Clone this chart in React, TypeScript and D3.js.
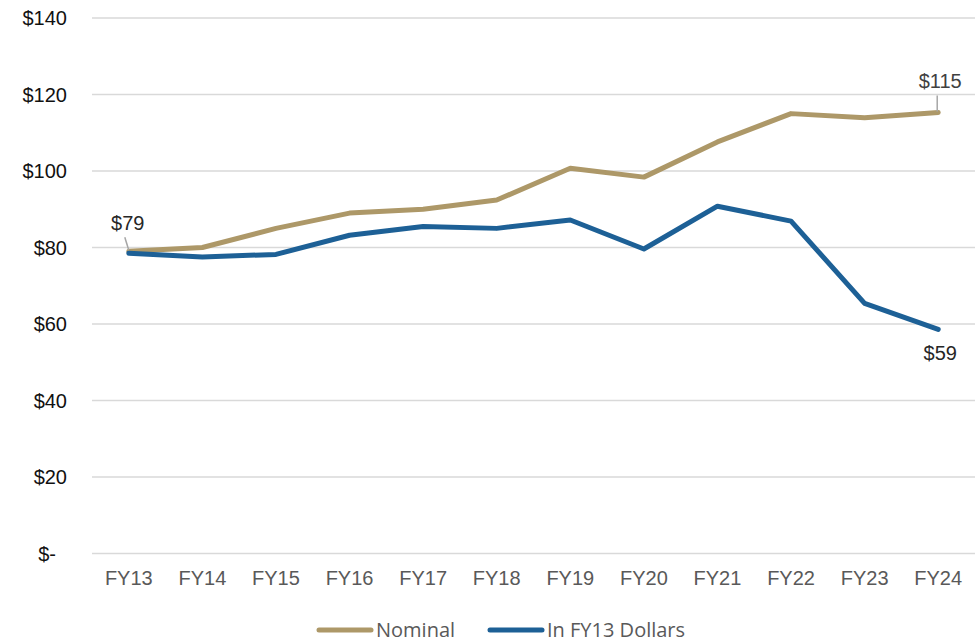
import React from "react";
import * as d3 from "d3";

const categories = ["FY13", "FY14", "FY15", "FY16", "FY17", "FY18", "FY19", "FY20", "FY21", "FY22", "FY23", "FY24"];
const nominal = [79, 80, 85, 89, 90, 92.4, 100.7, 98.4, 107.6, 115, 113.9, 115.3];
const realFY13 = [78.5, 77.5, 78.2, 83.2, 85.5, 85, 87.2, 79.6, 90.8, 86.9, 65.4, 58.6];
const yTicks = [0, 20, 40, 60, 80, 100, 120, 140];
const seriesNames = ["Nominal", "In FY13 Dollars"];
const colors = ["#AD9868", "#1D6096"];

const W = 978;
const H = 640;
const left = 92;
const right = 975;
const top = 18;
const bottom = 553.5;

export default function App() {
  const x = d3.scaleBand<string>().domain(categories).range([left, right]).padding(0);
  const y = d3.scaleLinear().domain([0, 140]).range([bottom, top]);
  const cx = (c: string) => (x(c) as number) + x.bandwidth() / 2;
  const line = d3
    .line<number>()
    .x((_, i) => cx(categories[i]))
    .y((d) => y(d));

  const fmt = (v: number) => (v === 0 ? "$-" : `$${v}`);
  const first = categories[0];
  const last = categories[categories.length - 1];
  const nLast = nominal[nominal.length - 1];
  const rLast = realFY13[realFY13.length - 1];

  return (
    <svg width={W} height={H} style={{ position: "absolute", left: 0, top: 0, background: "#fff" }}>
      {yTicks.map((t) => (
        <g key={t}>
          <line x1={left} x2={right} y1={y(t)} y2={y(t)} stroke="#D9D9D9" strokeWidth={1.5} />
          <text
            x={t === 0 ? left - 36 : left - 25}
            y={y(t)}
            dy="0.35em"
            textAnchor="end"
            fontFamily="Liberation Sans, Arial, sans-serif"
            fontSize={20}
            fill="#111"
          >
            {fmt(t)}
          </text>
        </g>
      ))}
      {categories.map((c) => (
        <text
          key={c}
          x={cx(c)}
          y={bottom + 31}
          textAnchor="middle"
          fontFamily="Liberation Sans, Arial, sans-serif"
          fontSize={20}
          fill="#595959"
        >
          {c}
        </text>
      ))}
      <path d={line(nominal) || ""} fill="none" stroke={colors[0]} strokeWidth={5} strokeLinejoin="round" strokeLinecap="round" />
      <path d={line(realFY13) || ""} fill="none" stroke={colors[1]} strokeWidth={5} strokeLinejoin="round" strokeLinecap="round" />

      {/* data labels */}
      <line x1={cx(first) - 4} y1={y(nominal[0]) - 14} x2={cx(first)} y2={y(nominal[0]) - 1} stroke="#A6A6A6" strokeWidth={1.5} />
      <text x={cx(first) - 1} y={y(nominal[0]) - 21} textAnchor="middle" fontFamily="Liberation Sans, Arial, sans-serif" fontSize={20} fill="#262626">
        {`$${Math.round(nominal[0])}`}
      </text>
      <line x1={cx(last) - 1} y1={y(nLast) - 17} x2={cx(last) - 1} y2={y(nLast) - 1} stroke="#A6A6A6" strokeWidth={1.5} />
      <text x={cx(last) + 2} y={y(nLast) - 24} textAnchor="middle" fontFamily="Liberation Sans, Arial, sans-serif" fontSize={20} fill="#404040">
        {`$${Math.round(nLast)}`}
      </text>
      <text x={cx(last) + 2} y={y(rLast) + 31} textAnchor="middle" fontFamily="Liberation Sans, Arial, sans-serif" fontSize={20} fill="#262626">
        {`$${Math.round(rLast)}`}
      </text>

      {/* legend */}
      {seriesNames.map((s, i) => {
        const lx = i === 0 ? 319 : 490;
        return (
          <g key={s}>
            <line x1={lx} x2={lx + 52} y1={630} y2={630} stroke={colors[i]} strokeWidth={5} strokeLinecap="round" />
            <text x={lx + 57} y={630} dy="0.36em" fontFamily="Open Sans, Noto Sans, sans-serif" fontSize={20} fill="#595959">
              {s}
            </text>
          </g>
        );
      })}
    </svg>
  );
}
